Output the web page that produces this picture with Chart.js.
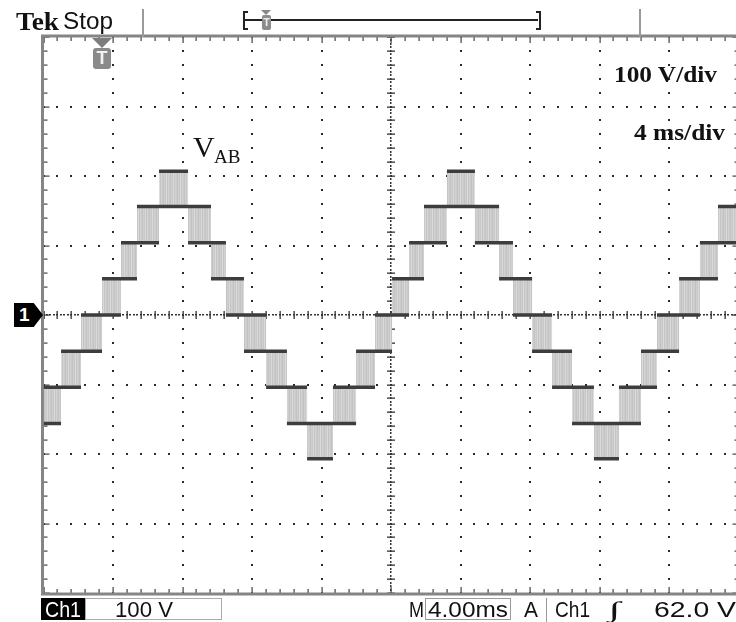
<!DOCTYPE html>
<html>
<head>
<meta charset="utf-8">
<script src="https://cdn.jsdelivr.net/npm/chart.js@4/dist/chart.umd.min.js"></script>
<style>
  body { margin: 0; width: 736px; height: 622px; overflow: hidden; background: #fff; position: relative; }
  #scope { position: absolute; left: 30px; top: 25px; }
  .t { position: absolute; white-space: nowrap; transform-origin: 0 0; color: #111; }
  .box { position: absolute; box-sizing: border-box; }
</style>
</head>
<body>
<canvas id="scope" width="730" height="585"></canvas>

<!-- header -->
<div class="t" style="left:16px;top:9px;font:bold 25px/1 'Liberation Serif',serif;" data-w="43">Tek</div>
<div class="t" style="left:63px;top:10px;font:23px/1 'Liberation Sans',sans-serif;" data-w="50">Stop</div>
<div class="box" style="left:142px;top:9px;width:2px;height:28px;background:#9a9a9a"></div>
<div class="box" style="left:639px;top:9px;width:2px;height:28px;background:#9a9a9a"></div>
<div class="box" style="left:243px;top:11px;width:5px;height:19px;border:2px solid #222;border-right:none"></div>
<div class="box" style="left:536px;top:11px;width:5px;height:19px;border:2px solid #222;border-left:none"></div>
<div class="box" style="left:245px;top:19px;width:293px;height:2px;background:#222"></div>
<div class="box" style="left:261px;top:10px;width:0;height:0;border-left:5px solid transparent;border-right:5px solid transparent;border-top:5px solid #888"></div>
<div class="box" style="left:262px;top:15px;width:9px;height:15px;background:#8c8c8c;border-radius:2px;color:#eee;font:bold 11px/15px 'Liberation Sans';text-align:center">T</div>

<!-- trigger marker -->
<div class="box" style="left:92px;top:38px;width:0;height:0;border-left:10px solid transparent;border-right:10px solid transparent;border-top:10px solid #7d7d7d"></div>
<div class="box" style="left:93px;top:48px;width:18px;height:21px;background:#8a8a8a;border-radius:3px;color:#f2f2f2;font:bold 18px/21px 'Liberation Sans';text-align:center">T</div>

<!-- channel marker -->
<div class="box" style="left:14px;top:303px;width:29px;height:24px;background:#000;clip-path:polygon(0 0,68% 0,100% 50%,68% 100%,0 100%);color:#fff;font:bold 19px/24px 'Liberation Sans';padding-left:5px">1</div>

<!-- annotations -->
<div class="t" style="left:193px;top:132px;font:30px/1 'Liberation Serif',serif;">V</div>
<div class="t" style="left:214px;top:147px;font:19px/1 'Liberation Serif',serif;">AB</div>
<div class="t" style="left:614px;top:62px;font:bold 24px/1 'Liberation Serif',serif;" data-w="103">100 V/div</div>
<div class="t" style="left:634px;top:120px;font:bold 24px/1 'Liberation Serif',serif;" data-w="91">4 ms/div</div>

<!-- status bar -->
<div class="box" style="left:41px;top:598px;width:44px;height:22px;background:#000"></div>
<div class="t" style="left:45px;top:599px;font:22px/1 'Liberation Sans',sans-serif;color:#fff" data-w="36">Ch1</div>
<div class="box" style="left:85px;top:598px;width:137px;height:22px;border:1px solid #aaa"></div>
<div class="t" style="left:115px;top:599px;font:22px/1 'Liberation Sans',sans-serif;" data-w="58">100 V</div>
<div class="t" style="left:409px;top:599px;font:22px/1 'Liberation Sans',sans-serif;" data-w="15">M</div>
<div class="box" style="left:425px;top:598px;width:86px;height:22px;border:1px solid #999"></div>
<div class="t" style="left:428px;top:599px;font:22px/1 'Liberation Sans',sans-serif;" data-w="80">4.00ms</div>
<div class="t" style="left:524px;top:599px;font:22px/1 'Liberation Sans',sans-serif;" data-w="14">A</div>
<div class="box" style="left:546px;top:598px;width:1px;height:26px;background:#999"></div>
<div class="t" style="left:555px;top:599px;font:22px/1 'Liberation Sans',sans-serif;" data-w="35">Ch1</div>
<div class="t" style="left:608px;top:599px;font:italic bold 22px/1 'Liberation Serif',serif;" data-w="12">∫</div>
<div class="t" style="left:654px;top:599px;font:22px/1 'Liberation Sans',sans-serif;" data-w="82">62.0 V</div>

<script>
// graticule: 4 ms/div, 100 V/div
const timeGrid = [0, 4, 8, 12, 16, 20, 24, 28, 32, 36, 40];
const voltGrid = [-400, -300, -200, -100, 0, 100, 200, 300, 400];

// inverter output levels (V)
const levelVolts = [-207, -156, -104, -52, 0, 52, 104, 156, 207];

// switching bands: between bandEdges[i] and bandEdges[i+1] (ms) the output
// toggles between level bandLow[i] and bandLow[i]+1
const bandEdges = [0, 1.01, 2.16, 3.37, 4.46, 5.38, 6.65, 8.32, 9.64, 10.50, 11.54, 12.81,
  14.01, 15.17, 16.66, 17.99, 19.08, 20.06, 21.04, 21.90, 23.22, 24.83, 26.22, 27.02,
  28.12, 29.27, 30.42, 31.68, 33.12, 34.39, 35.31, 36.58, 37.78, 38.82, 40];
const bandLow = [-3, -2, -1, 0, 1, 2, 3, 2, 1, 0, -1, -2, -3, -4, -3, -2, -1, 0, 1, 2,
  3, 2, 1, 0, -1, -2, -3, -4, -3, -2, -1, 0, 1, 2];

const volt = k => levelVolts[k + 4];
const lower = [], upper = [], levels = [];
bandLow.forEach((k, i) => {
  const a = bandEdges[i], b = bandEdges[i + 1];
  lower.push({x: a, y: volt(k)}, {x: b, y: volt(k)});
  upper.push({x: a, y: volt(k + 1)}, {x: b, y: volt(k + 1)});
  levels.push({x: a, y: volt(k)}, {x: b, y: volt(k)}, {x: b, y: null},
              {x: a, y: volt(k + 1)}, {x: b, y: volt(k + 1)}, {x: b, y: null});
});

// striped grey fill for the PWM region
const tile = document.createElement('canvas');
tile.width = 7; tile.height = 1;
const tc = tile.getContext('2d');
['#c3c3c3', '#cfcfcf', '#c8c8c8', '#dadada', '#c5c5c5', '#d2d2d2', '#cbcbcb'].forEach((c, i) => {
  tc.fillStyle = c; tc.fillRect(i, 0, 1, 1);
});
const ctx = document.getElementById('scope').getContext('2d');
const stripes = ctx.createPattern(tile, 'repeat');

const graticule = {
  id: 'graticule',
  beforeDatasetsDraw(chart) {
    const {ctx, chartArea: a, scales: {x, y}} = chart;
    const tMinor = (timeGrid[1] - timeGrid[0]) / 5;
    const vMinor = (voltGrid[1] - voltGrid[0]) / 5;
    const nt = Math.round((timeGrid[timeGrid.length - 1] - timeGrid[0]) / tMinor);
    const nv = Math.round((voltGrid[voltGrid.length - 1] - voltGrid[0]) / vMinor);
    const dot = (px, py) => ctx.fillRect(Math.round(px) - 1, Math.round(py) - 1, 2, 2);
    ctx.save();
    ctx.fillStyle = '#2a2a2a';
    timeGrid.slice(1, -1).forEach(t => {
      if (t === 20) return;
      const px = x.getPixelForValue(t);
      for (let j = 0; j <= nv; j++) dot(px, y.getPixelForValue(voltGrid[0] + j * vMinor));
    });
    voltGrid.slice(1, -1).forEach(v => {
      if (v === 0) return;
      const py = y.getPixelForValue(v);
      for (let i = 0; i <= nt; i++) dot(x.getPixelForValue(timeGrid[0] + i * tMinor), py);
    });
    // centre cross: dense dots plus ticks
    const cx = x.getPixelForValue(20), cy = y.getPixelForValue(0);
    ctx.fillStyle = '#333';
    for (let i = 0; i <= nt * 4; i++) {
      const px = x.getPixelForValue(timeGrid[0] + i * tMinor / 4);
      ctx.fillRect(Math.round(px) - 1, Math.round(cy) - 1, 2, 1.5);
    }
    for (let j = 0; j <= nv * 4; j++) {
      const py = y.getPixelForValue(voltGrid[0] + j * vMinor / 4);
      ctx.fillRect(Math.round(cx) - 1, Math.round(py) - 1, 1.5, 2);
    }
    for (let i = 0; i <= nt; i++) {
      const px = Math.round(x.getPixelForValue(timeGrid[0] + i * tMinor));
      ctx.fillRect(px - 0.5, cy - 4, 1.3, 8);
    }
    for (let j = 0; j <= nv; j++) {
      const py = Math.round(y.getPixelForValue(voltGrid[0] + j * vMinor));
      ctx.fillRect(cx - 4, py - 0.5, 8, 1.3);
    }
    // frame and edge ticks
    ctx.fillStyle = '#444';
    for (let i = 0; i <= nt; i++) {
      const px = Math.round(x.getPixelForValue(timeGrid[0] + i * tMinor));
      const len = i % 5 === 0 ? 6 : 4;
      ctx.fillRect(px - 0.5, a.top, 1.2, len);
      ctx.fillRect(px - 0.5, a.bottom - len, 1.2, len);
    }
    for (let j = 0; j <= nv; j++) {
      const py = Math.round(y.getPixelForValue(voltGrid[0] + j * vMinor));
      const len = j % 5 === 0 ? 6 : 4;
      ctx.fillRect(a.left, py - 0.5, len, 1.2);
      ctx.fillRect(a.right - len, py - 0.5, len, 1.2);
    }
    ctx.strokeStyle = '#858585';
    ctx.lineWidth = 3;
    ctx.strokeRect(a.left - 1, a.top - 1, a.right - a.left + 2, a.bottom - a.top + 2);
    ctx.restore();
  }
};

new Chart(ctx, {
  type: 'line',
  data: {
    datasets: [{
      label: 'levels',
      data: levels,
      borderColor: '#3d3d3d',
      borderWidth: 3.5,
      pointRadius: 0,
      spanGaps: false,
      fill: false
    }, {
      label: 'low',
      data: lower,
      borderColor: 'rgba(0,0,0,0)',
      borderWidth: 0,
      pointRadius: 0,
      fill: false
    }, {
      label: 'high',
      data: upper,
      borderColor: 'rgba(0,0,0,0)',
      borderWidth: 0,
      pointRadius: 0,
      backgroundColor: stripes,
      fill: '-1'
    }]
  },
  options: {
    responsive: false,
    animation: false,
    events: [],
    layout: {padding: {left: 13.5, top: 12, right: 21.5, bottom: 17}},
    scales: {
      x: {type: 'linear', min: timeGrid[0], max: timeGrid[timeGrid.length - 1], display: false},
      y: {min: voltGrid[0], max: voltGrid[voltGrid.length - 1], display: false}
    },
    plugins: {legend: {display: false}, tooltip: {enabled: false}}
  },
  plugins: [graticule]
});

document.querySelectorAll('[data-w]').forEach(el => {
  const w = el.getBoundingClientRect().width;
  el.style.transform = 'scaleX(' + (el.dataset.w / w) + ')';
});
</script>
</body>
</html>
